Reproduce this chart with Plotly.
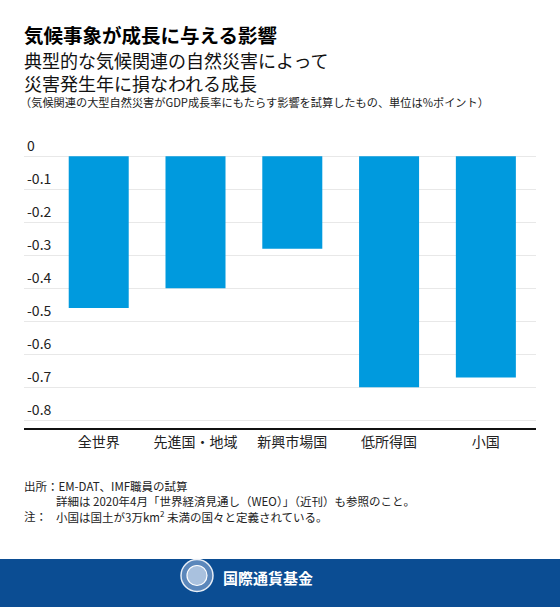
import plotly.graph_objects as go

categories = ["全世界", "先進国・地域", "新興市場国", "低所得国", "小国"]
values = [-0.46, -0.40, -0.28, -0.70, -0.67]
tick_vals = [0, -0.1, -0.2, -0.3, -0.4, -0.5, -0.6, -0.7, -0.8]
tick_text = ["0", "-0.1", "-0.2", "-0.3", "-0.4", "-0.5", "-0.6", "-0.7", "-0.8"]

title = "気候事象が成長に与える影響"
subtitle1 = "典型的な気候関連の自然災害によって"
subtitle2 = "災害発生年に損なわれる成長"
note_top = "（気候関連の大型自然災害がGDP成長率にもたらす影響を試算したもの、単位は%ポイント）"
source1 = "出所：EM-DAT、IMF職員の試算"
source2 = "詳細は 2020年4月「世界経済見通し（WEO）」（近刊）も参照のこと。"
note_label = "注："
note_text = "小国は国土が3万km<sup>2</sup> 未満の国々と定義されている。"
footer_text = "国際通貨基金"

W, H = 560, 607
L, R, T, B = 24, 24, 153, 179
PW = W - L - R
PH = H - T - B
FONT = "Noto Sans CJK JP"
BLUE = "#009ade"
NAVY = "#0b4d93"


def px(x):
    return (x - L) / PW


def py(y):
    return (H - B - y) / PH


fig = go.Figure()
fig.add_trace(go.Bar(
    x=categories, y=values, marker=dict(color=BLUE, line=dict(width=0)),
    width=0.62, hoverinfo="skip",
))

annotations = []


def text(x, y, s, size, bold=False, color="#111", xanchor="left"):
    if bold:
        s = "<b>" + s + "</b>"
    annotations.append(dict(
        x=px(x), y=py(y), xref="paper", yref="paper", text=s, showarrow=False,
        xanchor=xanchor, yanchor="middle", align="left",
        font=dict(family=FONT, size=size, color=color),
    ))


text(22, 34, title, 19.5, bold=True, color="#000")
text(22, 71, subtitle1 + "<br>" + subtitle2, 18, color="#111")
text(18, 102, note_top, 11.2, color="#222")
text(22, 486, source1, 11.5, color="#222")
text(54, 501, source2, 11.5, color="#222")
text(22, 516, note_label, 11.5, color="#222")
text(54, 516, note_text, 11.5, color="#222")
text(221, 577, footer_text, 15, bold=True, color="#ffffff")

shapes = [
    dict(type="rect", xref="paper", yref="paper", x0=px(-2), x1=px(W + 2),
         y0=py(559), y1=py(H + 2), fillcolor=NAVY, line=dict(width=0), layer="below"),
    dict(type="circle", xref="paper", yref="paper", x0=px(181), x1=px(213),
         y0=py(559.5), y1=py(591.5), fillcolor="#5b87bb",
         line=dict(color="#e8eef6", width=1.5)),
    dict(type="circle", xref="paper", yref="paper", x0=px(187), x1=px(207),
         y0=py(565.5), y1=py(585.5), fillcolor="#a9c1de",
         line=dict(color="#ffffff", width=1.2)),
]

fig.update_layout(
    width=W, height=H,
    margin=dict(l=L, r=R, t=T, b=B, pad=0),
    paper_bgcolor="white", plot_bgcolor="white",
    showlegend=False, bargap=0.38,
    annotations=annotations, shapes=shapes,
    font=dict(family=FONT, color="#222"),
)
fig.update_xaxes(
    range=[-0.772, 4.518], showgrid=False, showline=True, linecolor="#111",
    linewidth=1.5, ticks="", tickfont=dict(family=FONT, size=14, color="#222"),
    fixedrange=True,
)
fig.update_yaxes(
    range=[-0.8233, 0.01], tickvals=tick_vals, ticktext=tick_text,
    ticklabelposition="inside top", ticklabeloverflow="allow",
    showgrid=True, gridcolor="#e8e8e8", gridwidth=1,
    zeroline=True, zerolinecolor="#e8e8e8", zerolinewidth=1,
    showline=False, ticks="", tickfont=dict(family=FONT, size=14, color="#222"),
    fixedrange=True,
)

fig.write_html(
    "out.html",
    config={"displayModeBar": False},
    post_script="document.body.style.margin='0';document.body.style.padding='0';",
)
